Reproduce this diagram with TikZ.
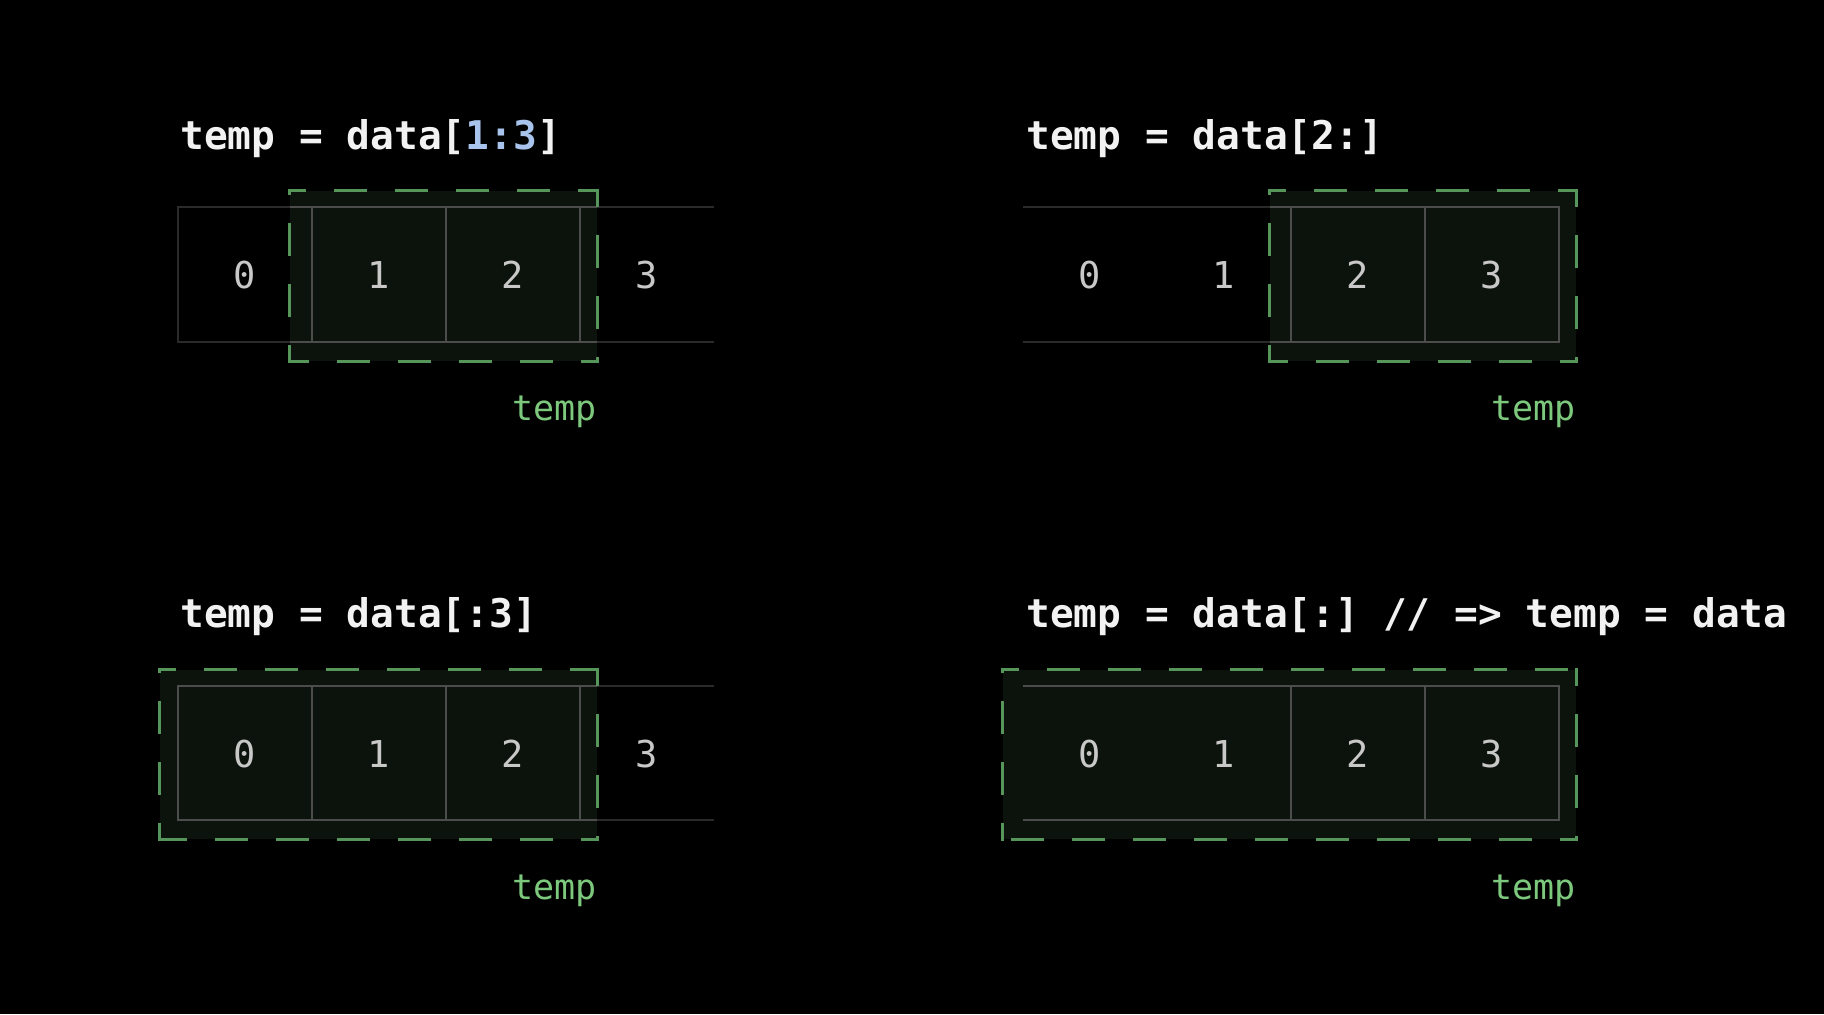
\documentclass[tikz,border=0pt]{standalone}
\usepackage{fontspec}
\setmonofont{DejaVu Sans Mono}
\usetikzlibrary{fit}
\definecolor{bgblack}{HTML}{000000}
\definecolor{boxfill}{HTML}{0C130C}
\definecolor{dimline}{HTML}{2A2A2A}
\definecolor{brightline}{HTML}{4C4C4C}
\definecolor{dashgreen}{HTML}{56965A}
\definecolor{numgrey}{HTML}{C8C8C8}
\definecolor{labelgreen}{HTML}{7CC87C}
\definecolor{titlewhite}{HTML}{F2F2F2}
\definecolor{idxblue}{HTML}{A8C4EC}
\begin{document}
\begin{tikzpicture}[x=0.5pt,y=-0.5pt,
 codetitle/.style={anchor=base west, inner sep=0pt, text=titlewhite, font=\fontsize{19.75}{24}\selectfont\ttfamily\bfseries},
 num/.style={inner sep=0pt, text=numgrey, font=\fontsize{18.5}{22}\selectfont\ttfamily},
 tlabel/.style={anchor=base east, inner sep=0pt, text=labelgreen, font=\fontsize{17.5}{20}\selectfont\ttfamily},
 boxbg/.style={inner sep=0pt, fill=boxfill, draw=none},
 dimcell/.style={draw=dimline, line width=0.75pt},
 brightcell/.style={draw=brightline, line width=0.75pt},
 dashside/.style={draw=dashgreen, line width=1.5pt, line cap=rect, dash pattern=on 15pt off 15.5pt, dash phase=7.5pt},
]
\useasboundingbox (0,0) rectangle (1824,1014);
\fill[bgblack] (0,0) rectangle (1824,1014);

% ---------- top-left: data[1:3]
\node[boxbg, fit={(290,191) (597,361)}] (b1) {};
\draw[dimcell] (714,207) -- (178,207) -- (178,342) -- (714,342);
\draw[brightcell] (290,207) -- (597,207) (290,342) -- (597,342)
  (312,207) -- (312,342) (446,207) -- (446,342) (580,207) -- (580,342);
\draw[dashside] (b1.north west) -- (b1.north east);
\draw[dashside] (b1.north east) -- (b1.south east);
\draw[dashside] (b1.south east) -- (b1.south west);
\draw[dashside] (b1.south west) -- (b1.north west);
\node[num] (n10) at (245,275) {0};
\node[num] (n11) at (379,275) {1};
\node[num] (n12) at (513,275) {2};
\node[num] (n13) at (647,275) {3};
\node[codetitle] (t1) at (180,149) {temp = data[\textcolor{idxblue}{1:3}]};
\node[tlabel] (l1) at (597,420) {temp};

% ---------- top-right: data[2:]
\node[boxbg, fit={(1270,191) (1576,361)}] (b2) {};
\draw[dimcell] (1023,207) -- (1270,207) (1023,342) -- (1270,342);
\draw[brightcell] (1270,207) -- (1559,207) -- (1559,342) -- (1270,342)
  (1291,207) -- (1291,342) (1425,207) -- (1425,342);
\draw[dashside] (b2.north west) -- (b2.north east);
\draw[dashside] (b2.north east) -- (b2.south east);
\draw[dashside] (b2.south east) -- (b2.south west);
\draw[dashside] (b2.south west) -- (b2.north west);
\node[num] (n20) at (1090,275) {0};
\node[num] (n21) at (1224,275) {1};
\node[num] (n22) at (1358,275) {2};
\node[num] (n23) at (1492,275) {3};
\node[codetitle] (t2) at (1026,149) {temp = data[2:]};
\node[tlabel] (l2) at (1576,420) {temp};

% ---------- bottom-left: data[:3]
\node[boxbg, fit={(160,670) (597,839)}] (b3) {};
\draw[dimcell] (597,686) -- (714,686) (597,820) -- (714,820);
\draw[brightcell] (597,686) -- (178,686) -- (178,820) -- (597,820)
  (312,686) -- (312,820) (446,686) -- (446,820) (580,686) -- (580,820);
\draw[dashside] (b3.north west) -- (b3.north east);
\draw[dashside] (b3.north east) -- (b3.south east);
\draw[dashside] (b3.south east) -- (b3.south west);
\draw[dashside] (b3.south west) -- (b3.north west);
\node[num] (n30) at (245,754) {0};
\node[num] (n31) at (379,754) {1};
\node[num] (n32) at (513,754) {2};
\node[num] (n33) at (647,754) {3};
\node[codetitle] (t3) at (180,627) {temp = data[:3]};
\node[tlabel] (l3) at (597,899) {temp};

% ---------- bottom-right: data[:]
\node[boxbg, fit={(1003,670) (1576,839)}] (b4) {};
\draw[brightcell] (1023,686) -- (1559,686) -- (1559,820) -- (1023,820)
  (1291,686) -- (1291,820) (1425,686) -- (1425,820);
\draw[dashside] (b4.north west) -- (b4.north east);
\draw[dashside] (b4.north east) -- (b4.south east);
\draw[dashside] (b4.south east) -- (b4.south west);
\draw[dashside] (b4.south west) -- (b4.north west);
\node[num] (n40) at (1090,754) {0};
\node[num] (n41) at (1224,754) {1};
\node[num] (n42) at (1358,754) {2};
\node[num] (n43) at (1492,754) {3};
\node[codetitle] (t4) at (1026,627) {temp = data[:] // => temp = data};
\node[tlabel] (l4) at (1576,899) {temp};
\end{tikzpicture}
\end{document}
